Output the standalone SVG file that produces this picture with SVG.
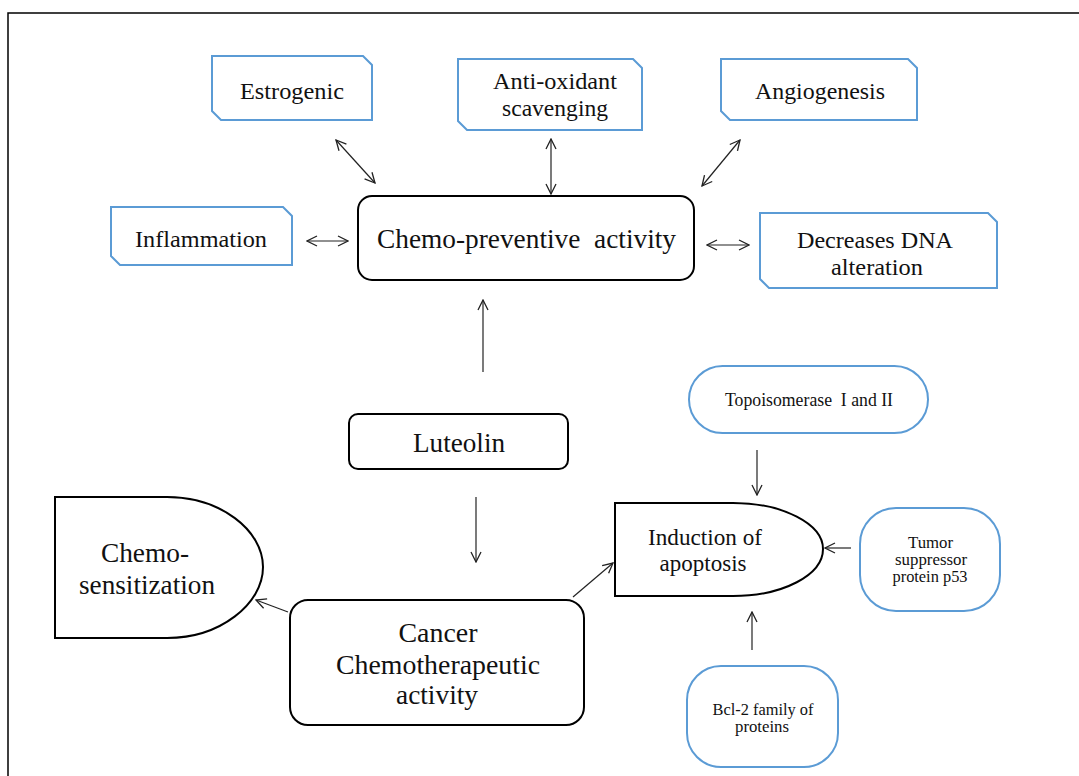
<svg xmlns="http://www.w3.org/2000/svg" width="1079" height="776" viewBox="0 0 1079 776" font-family="'Liberation Serif', 'DejaVu Serif', serif">
<defs>
<style>
.snip{fill:#fff;stroke:#5B9BD5;stroke-width:2}
.blk{fill:#fff;stroke:#000;stroke-width:2}
.pill{fill:#fff;stroke:#5B9BD5;stroke-width:2}
text{font-family:'Liberation Serif', 'DejaVu Serif', serif;fill:#111;text-anchor:middle}
.c line{stroke:#222;stroke-width:1.2;fill:none}
</style>
<marker id="ah" viewBox="0 0 12 12" refX="11" refY="6" markerWidth="12" markerHeight="12" markerUnits="userSpaceOnUse" orient="auto-start-reverse">
<path d="M1,1 L11,6 L1,11" fill="none" stroke="#222" stroke-width="1.3"/>
</marker>
</defs>
<rect width="1079" height="776" fill="#fff"/>
<path d="M8,776 V13 H1079" fill="none" stroke="#000" stroke-width="1.5"/>

<g id="estrogenic">
<path class="snip" d="M212,56 H363 L372,65 V120 H221 L212,111 Z"/>
<text x="292" y="99" font-size="24" textLength="104" lengthAdjust="spacingAndGlyphs">Estrogenic</text>
</g>
<g id="antioxidant">
<path class="snip" d="M458,59 H633 L642,68 V130 H467 L458,121 Z"/>
<text x="555" y="89" font-size="23" textLength="124" lengthAdjust="spacingAndGlyphs">Anti-oxidant</text>
<text x="555" y="116" font-size="23" textLength="106" lengthAdjust="spacingAndGlyphs">scavenging</text>
</g>
<g id="angiogenesis">
<path class="snip" d="M721,59 H908 L917,68 V120 H730 L721,111 Z"/>
<text x="820" y="99" font-size="24" textLength="130" lengthAdjust="spacingAndGlyphs">Angiogenesis</text>
</g>
<g id="inflammation">
<path class="snip" d="M111,207 H283 L292,216 V265 H120 L111,256 Z"/>
<text x="201" y="247" font-size="24" textLength="132" lengthAdjust="spacingAndGlyphs">Inflammation</text>
</g>
<g id="dna">
<path class="snip" d="M760,213 H988 L997,222 V288 H769 L760,279 Z"/>
<text x="875" y="248" font-size="23" textLength="156" lengthAdjust="spacingAndGlyphs">Decreases DNA</text>
<text x="877" y="275" font-size="23" textLength="92" lengthAdjust="spacingAndGlyphs">alteration</text>
</g>
<g id="chemopreventive">
<rect class="blk" x="358" y="196" width="336" height="84" rx="14"/>
<text x="526.5" y="248" font-size="27" xml:space="preserve" textLength="299" lengthAdjust="spacingAndGlyphs">Chemo-preventive  activity</text>
</g>
<g id="luteolin">
<rect class="blk" x="349" y="414" width="219" height="55" rx="9"/>
<text x="459" y="452" font-size="27" textLength="92" lengthAdjust="spacingAndGlyphs">Luteolin</text>
</g>
<g id="cancer">
<rect class="blk" x="290" y="600" width="294" height="125" rx="18"/>
<text x="438" y="642" font-size="27" textLength="79" lengthAdjust="spacingAndGlyphs">Cancer</text>
<text x="438" y="674" font-size="27" textLength="204" lengthAdjust="spacingAndGlyphs">Chemotherapeutic</text>
<text x="437" y="704" font-size="27" textLength="82" lengthAdjust="spacingAndGlyphs">activity</text>
</g>
<g id="chemosensitization">
<path class="blk" d="M55,497 H167 C220,497 263,530 263,567 C263,604 220,638 167,638 H55 Z"/>
<text x="145" y="562" font-size="28" textLength="88" lengthAdjust="spacingAndGlyphs">Chemo-</text>
<text x="147" y="594" font-size="28" textLength="136" lengthAdjust="spacingAndGlyphs">sensitization</text>
</g>
<g id="apoptosis">
<path class="blk" d="M615,503 H733 C783,503 823,524 823,549 C823,575 783,596 733,596 H615 Z"/>
<text x="705" y="545" font-size="23" textLength="114" lengthAdjust="spacingAndGlyphs">Induction of</text>
<text x="703" y="571" font-size="23" textLength="87" lengthAdjust="spacingAndGlyphs">apoptosis</text>
</g>
<g id="topoisomerase">
<rect class="pill" x="689" y="366" width="239" height="67" rx="33.5"/>
<text x="809" y="406" font-size="18" xml:space="preserve" textLength="168" lengthAdjust="spacingAndGlyphs">Topoisomerase  I and II</text>
</g>
<g id="p53">
<rect class="pill" x="860" y="508" width="140" height="103" rx="36"/>
<text x="930.5" y="548" font-size="16" textLength="45" lengthAdjust="spacingAndGlyphs">Tumor</text>
<text x="931" y="565" font-size="16" textLength="72" lengthAdjust="spacingAndGlyphs">suppressor</text>
<text x="930" y="582" font-size="16" textLength="75" lengthAdjust="spacingAndGlyphs">protein p53</text>
</g>
<g id="bcl2">
<rect class="pill" x="687" y="666" width="151" height="101" rx="34"/>
<text x="763" y="715" font-size="16" textLength="101" lengthAdjust="spacingAndGlyphs">Bcl-2 family of</text>
<text x="762" y="732" font-size="16" textLength="54" lengthAdjust="spacingAndGlyphs">proteins</text>
</g>

<g id="connectors" class="c">
<line x1="336" y1="140" x2="375" y2="183" marker-start="url(#ah)" marker-end="url(#ah)"/>
<line x1="551" y1="139" x2="551" y2="194" marker-start="url(#ah)" marker-end="url(#ah)"/>
<line x1="740" y1="140" x2="702" y2="186" marker-start="url(#ah)" marker-end="url(#ah)"/>
<line x1="307" y1="241" x2="348" y2="241" marker-start="url(#ah)" marker-end="url(#ah)"/>
<line x1="707" y1="245" x2="749" y2="245" marker-start="url(#ah)" marker-end="url(#ah)"/>
<line x1="483" y1="372" x2="483" y2="300" marker-end="url(#ah)"/>
<line x1="476" y1="497" x2="476" y2="562" marker-end="url(#ah)"/>
<line x1="288" y1="612" x2="256" y2="600" marker-end="url(#ah)"/>
<line x1="573" y1="597" x2="613" y2="563" marker-end="url(#ah)"/>
<line x1="757" y1="450" x2="757" y2="495" marker-end="url(#ah)"/>
<line x1="851" y1="548" x2="825" y2="548" marker-end="url(#ah)"/>
<line x1="752" y1="650" x2="752" y2="612" marker-end="url(#ah)"/>
</g>
</svg>
